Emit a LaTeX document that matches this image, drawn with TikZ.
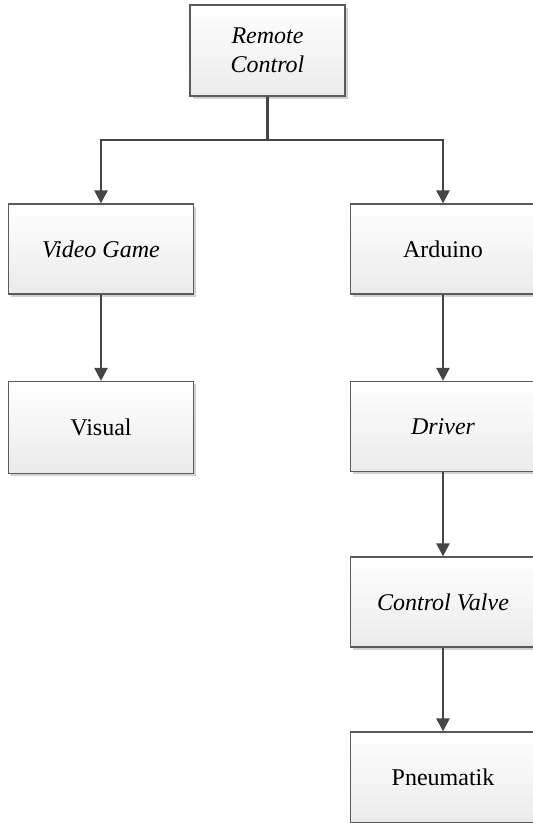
\documentclass[tikz,border=0pt]{standalone}
\usepackage{fontspec}
\setmainfont{Liberation Serif}
\newfontfamily\boxfont{Liberation Serif}
\usetikzlibrary{arrows.meta,shadows,positioning}
\definecolor{linec}{HTML}{454545}
\definecolor{borderc}{HTML}{5A5A5A}
\tikzset{
  box/.style={draw=borderc, line width=1.3pt, top color=white, bottom color=black!8,
    minimum width=185pt, minimum height=90pt, inner sep=0pt, align=center,
    font=\boxfont\fontsize{24}{29}\selectfont,
    drop shadow={shadow xshift=2.5pt, shadow yshift=-2.5pt, fill=black!30, opacity=0.6}},
  conn/.style={draw=linec, line width=2.4pt},
  arr/.style={conn, -{Triangle[length=13pt,width=13pt]}}
}
\begin{document}
\begin{tikzpicture}[x=1pt,y=-1pt]
\useasboundingbox (0,0) rectangle (533,823);
\node[box, minimum width=155pt, minimum height=91pt] (rc) at (267.5,50.5) {\itshape Remote\\\itshape Control};
\node[box] (vg) at (101,249) {\itshape Video Game};
\node[box] (ar) at (443,249) {Arduino};
\node[box, minimum height=92pt] (vi) at (101,427.5) {Visual};
\node[box] (dr) at (443,426.5) {\itshape Driver};
\node[box] (cv) at (443,602) {\itshape Control Valve};
\node[box, minimum height=91pt] (pn) at (443,777.5) {Pneumatik};
\coordinate (j) at (267.5,140);
\draw[conn] (rc.south) -- (j);
\draw[arr] (j) -| (vg.north);
\draw[arr] (j) -| (ar.north);
\draw[arr] (vg) -- (vi);
\draw[arr] (ar) -- (dr);
\draw[arr] (dr) -- (cv);
\draw[arr] (cv) -- (pn);
\end{tikzpicture}
\end{document}
